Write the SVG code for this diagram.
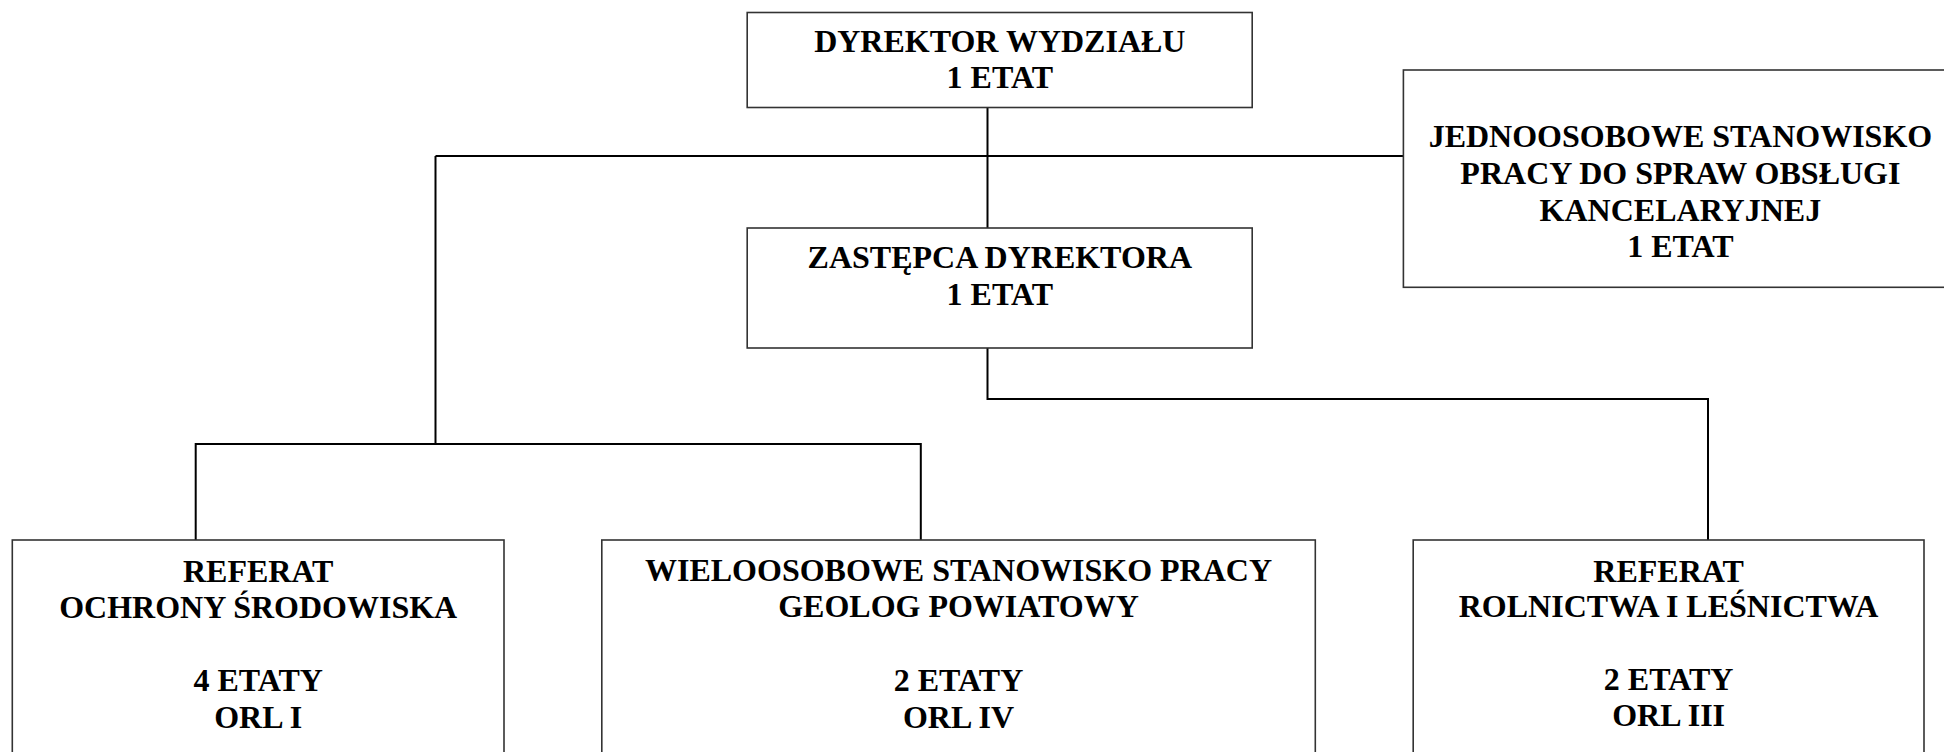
<svg xmlns="http://www.w3.org/2000/svg" width="1944" height="752" viewBox="0 0 1944 752">
<style>
.box{fill:#fff;stroke:#333;stroke-width:1.6}
.t{font-family:"Liberation Serif","Times New Roman",serif;font-weight:bold;font-size:32px;fill:#000;text-anchor:middle}
.c{fill:none;stroke:#000;stroke-width:2}
</style>
<rect x="0" y="0" width="1944" height="752" fill="#fff"/>
<g id="connectors">
<path class="c" d="M987.5 108 V228"/>
<path class="c" d="M435.5 156 H1403"/>
<path class="c" d="M435.5 156 V444"/>
<path class="c" d="M195.7 540 V444 H920.8 V540"/>
<path class="c" d="M987.5 348 V399 H1708 V540"/>
</g>
<g id="dyrektor">
<rect class="box" x="747.2" y="12.5" width="505" height="95"/>
<text class="t" x="999.8" y="51.7">DYREKTOR WYDZIAŁU</text>
<text class="t" x="999.8" y="88.3">1 ETAT</text>
</g>
<g id="zastepca">
<rect class="box" x="747.2" y="228" width="505" height="120"/>
<text class="t" x="999.8" y="268.3">ZASTĘPCA DYREKTORA</text>
<text class="t" x="999.8" y="305">1 ETAT</text>
</g>
<g id="kancelaria">
<rect class="box" x="1403.4" y="70" width="560" height="217.3"/>
<text class="t" x="1680.4" y="147.3">JEDNOOSOBOWE STANOWISKO</text>
<text class="t" x="1680.4" y="184">PRACY DO SPRAW OBSŁUGI</text>
<text class="t" x="1680.4" y="220.7">KANCELARYJNEJ</text>
<text class="t" x="1680.4" y="257.3">1 ETAT</text>
</g>
<g id="referat-os">
<rect class="box" x="12.3" y="540" width="491.7" height="230"/>
<text class="t" x="258.2" y="581.5">REFERAT</text>
<text class="t" x="258.2" y="618">OCHRONY ŚRODOWISKA</text>
<text class="t" x="258.2" y="690.5">4 ETATY</text>
<text class="t" x="258.2" y="727.5">ORL I</text>
</g>
<g id="geolog">
<rect class="box" x="601.8" y="540" width="713.5" height="230"/>
<text class="t" x="958.5" y="580.5">WIELOOSOBOWE STANOWISKO PRACY</text>
<text class="t" x="958.5" y="617">GEOLOG POWIATOWY</text>
<text class="t" x="958.5" y="690.5">2 ETATY</text>
<text class="t" x="958.5" y="727.5">ORL IV</text>
</g>
<g id="referat-rl">
<rect class="box" x="1413.2" y="540" width="510.8" height="230"/>
<text class="t" x="1668.6" y="581.5">REFERAT</text>
<text class="t" x="1668.6" y="617">ROLNICTWA I LEŚNICTWA</text>
<text class="t" x="1668.6" y="690">2 ETATY</text>
<text class="t" x="1668.6" y="726">ORL III</text>
</g>
</svg>
